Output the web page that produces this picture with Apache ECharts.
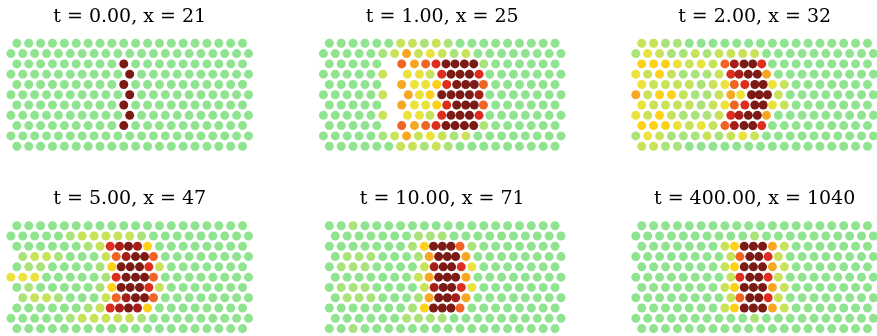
<!DOCTYPE html>
<html>
<head>
<meta charset="utf-8">
<title>Lattice snapshots</title>
<script src="https://cdn.jsdelivr.net/npm/echarts@6/dist/echarts.min.js"></script>
<style>
  html, body { margin: 0; padding: 0; background: #fff; }
  #chart { width: 877px; height: 336px; }
</style>
</head>
<body>
<div id="chart"></div>
<script>
// panel titles, left to right, top to bottom
const titles = [
  't = 0.00, x = 21', 't = 1.00, x = 25', 't = 2.00, x = 32',
  't = 5.00, x = 47', 't = 10.00, x = 71', 't = 400.00, x = 1040'
]

// level of the dot on each lattice site, one string per row
// (even rows 20 sites, odd rows 21 sites shifted half a step left; '.' = site empty)
const sitesP1 = [
  '00000000000000000000',
  '000000000000000000000',
  '00000000090000000000',
  '000000000090000000000',
  '00000000090000000000',
  '000000000090000000000',
  '00000000090000000000',
  '000000000090000000000',
  '00000000090000000000',
  '000000000000000000000',
  '00000000000000000000'
]
const sitesP2 = [
  '00000022121000000000',
  '000001252321200000000',
  '00000........1000000',
  '000002........0000000',
  '00000.........000000',
  '000002........0000000',
  '00000.........000000',
  '000002........0000000',
  '00000........1000000',
  '000001252321200000000',
  '00000022121000000000'
]
const sitesP3 = [
  '22110000000000000000',
  '132112122220000000000',
  '44432326...000000000',
  '324211127..5000000000',
  '32222123...320000000',
  '524421125...200000000',
  '32222123...320000000',
  '324211127..5000000000',
  '44432326...000000000',
  '132111212320000000000',
  '22110000000000000000'
]
const sitesP4 = [
  '00000000000000000000',
  '000001222221000000000',
  '00000012...400000000',
  '.12210002...600000000',
  '011000014...20000000',
  '333000001...600000000',
  '010000014...20000000',
  '.12210002...600000000',
  '00000012...400000000',
  '000001222221000000000',
  '00000000000000000000'
]
const sitesP5 = [
  '00100000000000000000',
  '.00000001110000000000',
  '000000014..610000000',
  '.01110001...500000000',
  '011100002...30000000',
  '.00000002...500000000',
  '011100002...30000000',
  '.01110001...500000000',
  '000000014..600000000',
  '.00000011110000000000',
  '00100000000000000000'
]
const sitesP6 = [
  '00000000000000000000',
  '000000000010000000000',
  '00000002...520000000',
  '000000002...200000000',
  '00000002...520000000',
  '000000002...200000000',
  '00000002...520000000',
  '000000002...200000000',
  '00000002...520000000',
  '000000000010000000000',
  '00000000000000000000'
]

// dots pushed off their sites: [row, x, level]
const movedP1 = []
const movedP2 = [
  [2, 6.09, 6], [2, 7.16, 5], [2, 8.11, 6], [2, 8.98, 7], [2, 9.82, 9], [2, 10.58, 9], [2, 11.37, 9], [2, 12.15, 9],
  [3, 6.57, 3], [3, 7.58, 3], [3, 8.47, 2], [3, 9.46, 7], [3, 10.24, 9], [3, 11.0, 9], [3, 11.79, 9], [3, 12.6, 7],
  [4, 6.09, 5], [4, 7.16, 3], [4, 8.11, 3], [4, 9.04, 4], [4, 9.88, 7], [4, 10.72, 9], [4, 11.48, 9], [4, 12.2, 9], [4, 12.97, 6],
  [5, 6.65, 5], [5, 7.58, 3], [5, 8.47, 4], [5, 9.46, 9], [5, 10.24, 9], [5, 11.0, 9], [5, 11.79, 9], [5, 12.6, 8],
  [6, 6.09, 5], [6, 7.16, 3], [6, 8.11, 3], [6, 9.04, 4], [6, 9.88, 7], [6, 10.72, 9], [6, 11.48, 9], [6, 12.2, 9], [6, 12.97, 6],
  [7, 6.57, 3], [7, 7.58, 3], [7, 8.47, 2], [7, 9.46, 7], [7, 10.24, 9], [7, 11.0, 9], [7, 11.79, 9], [7, 12.6, 7],
  [8, 6.09, 6], [8, 7.16, 5], [8, 8.11, 6], [8, 8.98, 7], [8, 9.82, 9], [8, 10.58, 9], [8, 11.37, 9], [8, 12.15, 9]
]
const movedP3 = [
  [2, 7.79, 8], [2, 8.61, 9], [2, 9.34, 9], [2, 10.1, 7],
  [3, 8.19, 8], [3, 8.97, 9], [3, 9.73, 9],
  [4, 7.79, 6], [4, 8.68, 7], [4, 9.52, 9], [4, 10.22, 9],
  [5, 8.32, 3], [5, 9.24, 9], [5, 9.89, 9], [5, 10.59, 9],
  [6, 7.79, 6], [6, 8.68, 7], [6, 9.52, 9], [6, 10.22, 9],
  [7, 8.19, 8], [7, 8.97, 9], [7, 9.73, 9],
  [8, 7.79, 8], [8, 8.61, 9], [8, 9.34, 9], [8, 10.1, 7]
]
const movedP4 = [
  [2, 7.86, 7], [2, 8.64, 8], [2, 9.4, 9], [2, 10.16, 8],
  [3, 8.36, 6], [3, 9.2, 8], [3, 9.99, 9], [3, 10.75, 9],
  [4, 8.78, 9], [4, 9.54, 9], [4, 10.33, 9], [4, 11.11, 7],
  [5, 8.36, 7], [5, 9.2, 9], [5, 9.99, 9], [5, 10.75, 9],
  [6, 8.78, 9], [6, 9.54, 9], [6, 10.33, 9], [6, 11.11, 7],
  [7, 8.36, 6], [7, 9.2, 8], [7, 9.99, 9], [7, 10.75, 9],
  [8, 7.86, 7], [8, 8.64, 8], [8, 9.4, 9], [8, 10.16, 8]
]
const movedP5 = [
  [2, 8.77, 9], [2, 9.51, 9], [2, 10.24, 9],
  [3, 8.4, 5], [3, 9.2, 9], [3, 9.93, 9], [3, 10.63, 9],
  [4, 8.82, 8], [4, 9.59, 9], [4, 10.29, 9], [4, 11.1, 7],
  [5, 8.4, 5], [5, 9.2, 9], [5, 9.93, 9], [5, 10.63, 9],
  [6, 8.82, 8], [6, 9.59, 9], [6, 10.29, 9], [6, 11.1, 7],
  [7, 8.4, 5], [7, 9.2, 9], [7, 9.93, 9], [7, 10.63, 8],
  [8, 8.77, 9], [8, 9.51, 9], [8, 10.24, 9]
]
const movedP6 = [
  [2, 7.8, 4], [2, 8.63, 9], [2, 9.4, 9], [2, 10.17, 9],
  [3, 8.26, 6], [3, 9.1, 9], [3, 9.85, 9], [3, 10.64, 7],
  [4, 7.8, 4], [4, 8.63, 9], [4, 9.4, 9], [4, 10.17, 9],
  [5, 8.26, 7], [5, 9.1, 9], [5, 9.85, 9], [5, 10.64, 7],
  [6, 7.8, 4], [6, 8.63, 9], [6, 9.4, 9], [6, 10.17, 9],
  [7, 8.26, 6], [7, 9.1, 9], [7, 9.85, 9], [7, 10.64, 7],
  [8, 7.8, 4], [8, 8.63, 9], [8, 9.4, 9], [8, 10.17, 9]
]

// colour for each level, green (rest) -> yellow -> orange -> dark red
const palette = ['#90e490', '#aae37a', '#c8e35a', '#ebe23c', '#fdd117',
  '#f8a722', '#f06424', '#dc2d1e', '#a61e17', '#7c1a15']

const panels = [
  [sitesP1, movedP1], [sitesP2, movedP2], [sitesP3, movedP3],
  [sitesP4, movedP4], [sitesP5, movedP5], [sitesP6, movedP6]
]

const toPoints = (sites, moved) => {
  const pts = []
  sites.forEach((row, r) => {
    const shift = r % 2 === 0 ? 0 : -0.5
    row.split('').forEach((ch, i) => {
      if (ch !== '.') pts.push([i + shift, r, Number(ch)])
    })
  })
  moved.forEach(m => pts.push([m[1], m[0], m[2]]))
  return pts
}

// layout of the 2x3 panels
const colLeft = [10.9, 323.4, 635.8]
const rowTop = [43.3, 225.7]
const gridW = 237.6
const gridH = 102.9
const titleY = [17, 199.4]

const grids = [], xAxes = [], yAxes = [], series = [], texts = []
panels.forEach(([sites, moved], k) => {
  const c = k % 3, r = Math.floor(k / 3)
  grids.push({ left: colLeft[c], top: rowTop[r], width: gridW, height: gridH })
  xAxes.push({ gridIndex: k, type: 'value', min: -0.5, max: 19.5, show: false })
  yAxes.push({ gridIndex: k, type: 'value', min: 0, max: 10, inverse: true, show: false })
  series.push({
    type: 'scatter',
    xAxisIndex: k,
    yAxisIndex: k,
    symbol: 'circle',
    symbolSize: 9,
    silent: true,
    data: toPoints(sites, moved),
    itemStyle: { color: (p) => palette[p.value[2]], opacity: 1 }
  })
  texts.push({
    type: 'text',
    x: colLeft[c] + gridW / 2,
    y: titleY[r],
    style: {
      text: titles[k],
      fontFamily: 'DejaVu Serif',
      fontSize: 19,
      fill: '#000',
      textAlign: 'center',
      textVerticalAlign: 'middle'
    }
  })
})

const chart = echarts.init(document.getElementById('chart'), null, { renderer: 'canvas' })
chart.setOption({
  backgroundColor: '#fff',
  animation: false,
  grid: grids,
  xAxis: xAxes,
  yAxis: yAxes,
  series: series,
  graphic: texts
})
</script>
</body>
</html>
